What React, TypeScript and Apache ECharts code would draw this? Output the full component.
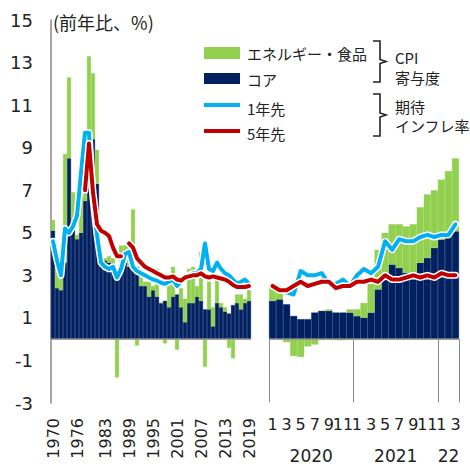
import React, { useEffect, useRef } from 'react';
import * as echarts from 'echarts';

// ---- annual data (1970-2019), CPI contribution, % y/y ----
const years = [
  '1970','1971','1972','1973','1974','1975','1976','1977','1978','1979',
  '1980','1981','1982','1983','1984','1985','1986','1987','1988','1989',
  '1990','1991','1992','1993','1994','1995','1996','1997','1998','1999',
  '2000','2001','2002','2003','2004','2005','2006','2007','2008','2009',
  '2010','2011','2012','2013','2014','2015','2016','2017','2018','2019',
];
const yearTickLabels = ['1970', '1976', '1983', '1989', '1995', '2001', '2007', '2013', '2019'];

const coreAnnual = [
  5.1, 2.4, 2.3, 3.6, 8.5, 5.2, 4.7, 5.0, 6.5, 8.7,
  9.4, 7.3, 3.5, 3.7, 3.6, 3.3, 2.9, 3.2, 3.6, 3.4,
  4.0, 3.4, 2.5, 2.5, 2.0, 2.3, 2.0, 1.7, 1.8, 1.5,
  2.0, 2.1, 1.5, 0.8, 1.7, 1.7, 2.0, 1.8, 1.4, 1.4,
  0.6, 1.7, 1.5, 1.3, 1.2, 1.6, 1.7, 1.4, 1.7, 1.8,
];
const energyAnnual = [
  0.5, 0.9, 1.1, 5.1, 3.8, 1.7, 0.2, 1.7, 2.5, 4.6,
  3.1, 1.6, 0.3, 0.1, 0.3, 0.5, -1.8, 1.2, 0.8, 1.2,
  2.1, -0.3, 0.4, 0.2, 0.7, 0.2, 1.3, 0.0, -0.2, 1.2,
  1.4, -0.5, 0.9, 1.1, 1.6, 1.7, 0.5, 2.3, -1.3, 1.3,
  0.9, 1.3, 0.2, 0.2, -0.4, -0.9, 0.4, 0.7, 0.2, 0.5,
];
const oneYearAnnual = [
  4.6, 3.7, 3.0, 5.2, 5.0, 5.3, 5.8, 7.8, 9.7, 9.7,
  6.6, 4.9, 3.6, 3.4, 3.3, 3.4, 2.9, 3.3, 4.0, 4.1,
  3.4, 3.2, 3.1, 3.0, 2.9, 2.8, 2.75, 2.65, 2.6, 2.7,
  2.8, 2.5, 2.7, 2.9, 3.0, 3.1, 3.1, 3.3, 4.5, 3.3,
  3.2, 3.6, 3.3, 3.1, 3.0, 2.8, 2.6, 2.7, 2.8, 2.6,
];
const fiveYearAnnual = [
  null, null, null, null, null, null, null, null, 7.0, 9.2,
  6.9, 5.4, 5.1, 5.0, 4.85, 4.3, 3.9, 3.9, null, 4.5,
  4.3, 3.8, 3.6, 3.4, 3.3, 3.2, 3.1, 3.0, 2.9, 2.9,
  2.95, 2.8, 2.75, 2.9, 2.95, 3.0, 3.0, 3.1, 2.95, 2.9,
  2.95, 2.9, 2.85, 2.8, 2.7, 2.55, 2.45, 2.45, 2.45, 2.5,
];

// ---- monthly data (2020/1 - 2022/3) ----
const months = [
  '2020-01','2020-02','2020-03','2020-04','2020-05','2020-06','2020-07','2020-08','2020-09','2020-10','2020-11','2020-12',
  '2021-01','2021-02','2021-03','2021-04','2021-05','2021-06','2021-07','2021-08','2021-09','2021-10','2021-11','2021-12',
  '2022-01','2022-02','2022-03',
];
const yearGroupLabels = ['2020', '2021', '22'];
const coreMonthly = [
  1.8, 1.87, 1.64, 1.09, 0.94, 0.94, 1.25, 1.33, 1.33, 1.25, 1.25, 1.25,
  1.09, 1.01, 1.25, 2.34, 2.96, 3.51, 3.35, 3.12, 3.12, 3.59, 3.82, 4.29,
  4.68, 4.99, 5.07,
];
const energyMonthly = [
  0.7, 0.43, -0.14, -0.79, -0.84, -0.34, -0.25, -0.03, 0.07, -0.05, -0.05, 0.15,
  0.31, 0.69, 1.35, 1.86, 2.04, 1.89, 2.05, 2.18, 2.28, 2.61, 2.98, 2.71,
  2.82, 2.91, 3.43,
];
const oneYearMonthly = [
  2.5, 2.4, 2.2, 2.1, 3.2, 3.0, 3.0, 3.1, 2.6, 2.6, 2.8, 2.5,
  3.0, 3.3, 3.1, 3.4, 4.6, 4.2, 4.7, 4.6, 4.6, 4.8, 4.9, 4.8,
  4.9, 4.9, 5.4,
];
const fiveYearMonthly = [
  2.5, 2.3, 2.3, 2.5, 2.7, 2.5, 2.6, 2.7, 2.7, 2.4, 2.5, 2.5,
  2.7, 2.7, 2.8, 2.7, 3.0, 2.8, 2.8, 2.9, 3.0, 2.9, 3.0, 2.9,
  3.1, 3.0, 3.0,
];

const GREEN = '#92D050';
const NAVY = '#002060';
const BLUE = '#00B0F0';
const RED = '#C00000';
const AXIS_GRAY = '#888888';
const NUM_FONT = 'DejaVu Sans';
const JP_FONT = 'Noto Sans CJK JP';

function lineSeries(xi: number, data: (number | null)[], color: string, width: number) {
  return {
    type: 'line',
    xAxisIndex: xi,
    yAxisIndex: xi,
    data,
    symbol: 'none',
    connectNulls: false,
    silent: true,
    lineStyle: { color, width, join: 'round', cap: 'round' },
  };
}

function barSeries(xi: number, data: number[], color: string, stack: string, zero: boolean) {
  const s: any = {
    type: 'bar',
    xAxisIndex: xi,
    yAxisIndex: xi,
    stack,
    data,
    barCategoryGap: '0%',
    silent: true,
    itemStyle: { color, borderColor: color, borderWidth: 0.4 },
  };
  if (zero) {
    s.markLine = {
      silent: true,
      symbol: 'none',
      label: { show: false },
      lineStyle: { color: AXIS_GRAY, width: 1.5, type: 'solid' },
      data: [{ yAxis: 0 }],
    };
  }
  return s;
}

function buildOption() {
  const yearGroupIndex: Record<number, string> = { 6: yearGroupLabels[0], 18: yearGroupLabels[1], 25: yearGroupLabels[2] };
  const text = (x: number, y: number, t: string, size: number) => ({
    type: 'text',
    x,
    y,
    silent: true,
    style: {
      text: t,
      fontSize: size,
      fontFamily: JP_FONT,
      fill: '#222',
      verticalAlign: 'middle',
      align: 'left',
      lineHeight: size,
    },
  });
  const bracket = (x0: number, x1: number, x2: number, yTop: number, yBot: number) => {
    const ym = (yTop + yBot) / 2;
    return {
      type: 'polyline',
      silent: true,
      shape: {
        points: [
          [x0, yTop], [x1, yTop], [x1, ym - 2], [x2, ym], [x1, ym + 2], [x1, yBot], [x0, yBot],
        ],
      },
      style: { stroke: '#222', lineWidth: 1.6, fill: 'none' },
    };
  };
  return {
    animation: false,
    backgroundColor: '#ffffff',
    grid: [
      { left: 51, top: 20, width: 200, height: 383 },
      { left: 269, top: 20, width: 190, height: 383 },
    ],
    xAxis: [
      {
        gridIndex: 0,
        type: 'category',
        data: years,
        boundaryGap: true,
        axisLine: { show: false },
        axisTick: { show: false },
        axisLabel: {
          rotate: 90,
          interval: (_i: number, v: string) => yearTickLabels.includes(v),
          fontSize: 16,
          fontFamily: NUM_FONT,
          color: '#222',
          margin: 15,
        },
      },
      {
        gridIndex: 1,
        type: 'category',
        data: months,
        position: 'bottom',
        boundaryGap: true,
        axisLine: { show: false },
        axisTick: {
          show: true,
          interval: (i: number) => i === 0 || i === 12 || i === 24,
          length: 63,
          lineStyle: { color: AXIS_GRAY, width: 1 },
        },
        axisLabel: {
          interval: 0,
          formatter: (v: string, i: number) => (i % 2 === 0 ? String(parseInt(v.slice(5), 10)) : ''),
          fontSize: 16,
          fontFamily: NUM_FONT,
          color: '#222',
          margin: 13,
        },
      },
      {
        gridIndex: 1,
        type: 'category',
        data: months,
        position: 'bottom',
        boundaryGap: true,
        axisLine: { show: false },
        axisTick: { show: false },
        axisLabel: {
          interval: 0,
          formatter: (_v: string, i: number) => {
            const t = yearGroupIndex[i];
            if (!t) return '';
            return i === 25 ? t : '{a|' + t + '}';
          },
          rich: { a: { fontSize: 17, fontFamily: NUM_FONT, color: '#222', padding: [0, 7, 0, 0] } },
          fontSize: 17,
          fontFamily: NUM_FONT,
          color: '#222',
          margin: 44,
        },
      },
    ],
    yAxis: [
      {
        gridIndex: 0,
        type: 'value',
        min: -3,
        max: 15,
        interval: 2,
        axisLine: { show: true, lineStyle: { color: AXIS_GRAY, width: 1.5 } },
        axisTick: { show: false },
        splitLine: { show: false },
        axisLabel: { fontSize: 18, fontFamily: NUM_FONT, color: '#222', margin: 18 },
      },
      {
        gridIndex: 1,
        type: 'value',
        min: -3,
        max: 15,
        interval: 2,
        axisLine: { show: false },
        axisTick: { show: false },
        splitLine: { show: false },
        axisLabel: { show: false },
      },
    ],
    series: [
      barSeries(0, coreAnnual, NAVY, 'L', true),
      barSeries(0, energyAnnual, GREEN, 'L', false),
      lineSeries(0, oneYearAnnual, '#ffffff', 7),
      lineSeries(0, oneYearAnnual, BLUE, 4),
      lineSeries(0, fiveYearAnnual, '#ffffff', 7),
      lineSeries(0, fiveYearAnnual, RED, 4),
      barSeries(1, coreMonthly, NAVY, 'R', true),
      barSeries(1, energyMonthly, GREEN, 'R', false),
      lineSeries(1, oneYearMonthly, '#ffffff', 7),
      lineSeries(1, oneYearMonthly, BLUE, 4),
      lineSeries(1, fiveYearMonthly, '#ffffff', 7),
      lineSeries(1, fiveYearMonthly, RED, 4),
    ],
    graphic: [
      text(53, 22, '(前年比、%)', 18),
      { type: 'rect', silent: true, shape: { x: 204, y: 47, width: 36, height: 12 }, style: { fill: GREEN } },
      { type: 'rect', silent: true, shape: { x: 204, y: 73, width: 36, height: 11 }, style: { fill: NAVY } },
      { type: 'line', silent: true, shape: { x1: 204, y1: 105, x2: 240, y2: 105 }, style: { stroke: BLUE, lineWidth: 4 } },
      { type: 'line', silent: true, shape: { x1: 204, y1: 131, x2: 240, y2: 131 }, style: { stroke: RED, lineWidth: 4 } },
      text(247, 53, 'エネルギー・食品', 15),
      text(247, 79, 'コア', 15),
      text(247, 108, '1年先', 15),
      text(247, 133, '5年先', 15),
      bracket(373, 380, 386, 41, 82),
      bracket(373, 380, 386, 94, 136),
      text(395, 57, 'CPI', 15),
      text(395, 77, '寄与度', 15),
      text(395, 106, '期待', 15),
      text(395, 125, 'インフレ率', 15),
    ],
  };
}

export default function App() {
  const ref = useRef<HTMLDivElement>(null);
  useEffect(() => {
    if (!ref.current) return;
    const chart = echarts.init(ref.current, null, { renderer: 'svg' });
    chart.setOption(buildOption() as any);
    return () => chart.dispose();
  }, []);
  return <div ref={ref} style={{ position: 'absolute', left: 0, top: 0, width: 470, height: 466 }} />;
}
